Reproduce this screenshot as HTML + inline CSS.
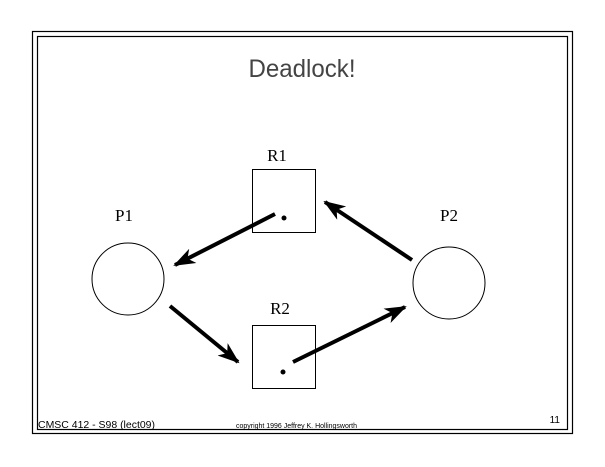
<!DOCTYPE html>
<html><head><meta charset="utf-8"><style>
html,body{margin:0;padding:0;background:#fff;}
svg{display:block;}
</style></head><body>
<svg width="605" height="467" viewBox="0 0 605 467" xmlns="http://www.w3.org/2000/svg">
<defs>
<marker id="ah" markerWidth="22" markerHeight="16" refX="20" refY="8" orient="auto" markerUnits="userSpaceOnUse">
<path d="M0,0 L22,8 L0,16 L6,8 Z" fill="#000"/>
</marker>
</defs>
<rect x="32.5" y="31.5" width="540" height="402" fill="none" stroke="#000" stroke-width="1.2"/>
<rect x="37.5" y="36.5" width="530" height="393" fill="none" stroke="#000" stroke-width="1.2"/>
<text x="302" y="77" font-family="Liberation Sans, sans-serif" font-size="25" fill="#444" text-anchor="middle" textLength="107" lengthAdjust="spacingAndGlyphs">Deadlock!</text>

<g font-family="Liberation Serif, serif" font-size="17" fill="#000" text-anchor="middle">
<text x="277" y="161">R1</text>
<text x="124" y="221">P1</text>
<text x="449" y="221">P2</text>
<text x="280" y="314">R2</text>
</g>

<rect x="252.5" y="169.5" width="63" height="63" fill="none" stroke="#000" stroke-width="1"/>
<rect x="252.5" y="325.5" width="63" height="63" fill="none" stroke="#000" stroke-width="1"/>
<circle cx="284" cy="218" r="2.5" fill="#000"/>
<circle cx="283" cy="372" r="2.5" fill="#000"/>
<ellipse cx="128" cy="279" rx="36" ry="36" fill="none" stroke="#000" stroke-width="1"/>
<ellipse cx="449" cy="283" rx="36" ry="36" fill="none" stroke="#000" stroke-width="1"/>

<g stroke="#000" stroke-width="4" fill="none" marker-end="url(#ah)">
<line x1="275" y1="214" x2="175" y2="265"/>
<line x1="412" y1="260" x2="325" y2="202"/>
<line x1="170" y1="306" x2="238" y2="362"/>
<line x1="293" y1="362" x2="405" y2="307"/>
</g>

<text x="38" y="428" font-family="Liberation Sans, sans-serif" font-size="10" textLength="117" lengthAdjust="spacingAndGlyphs">CMSC 412 - S98  (lect09)</text>
<text x="236" y="428" font-family="Liberation Sans, sans-serif" font-size="7" textLength="121" lengthAdjust="spacingAndGlyphs">copyright 1996 Jeffrey K. Hollingsworth</text>
<text x="560" y="423" font-family="Liberation Sans, sans-serif" font-size="10" text-anchor="end">11</text>
</svg>
</body></html>
